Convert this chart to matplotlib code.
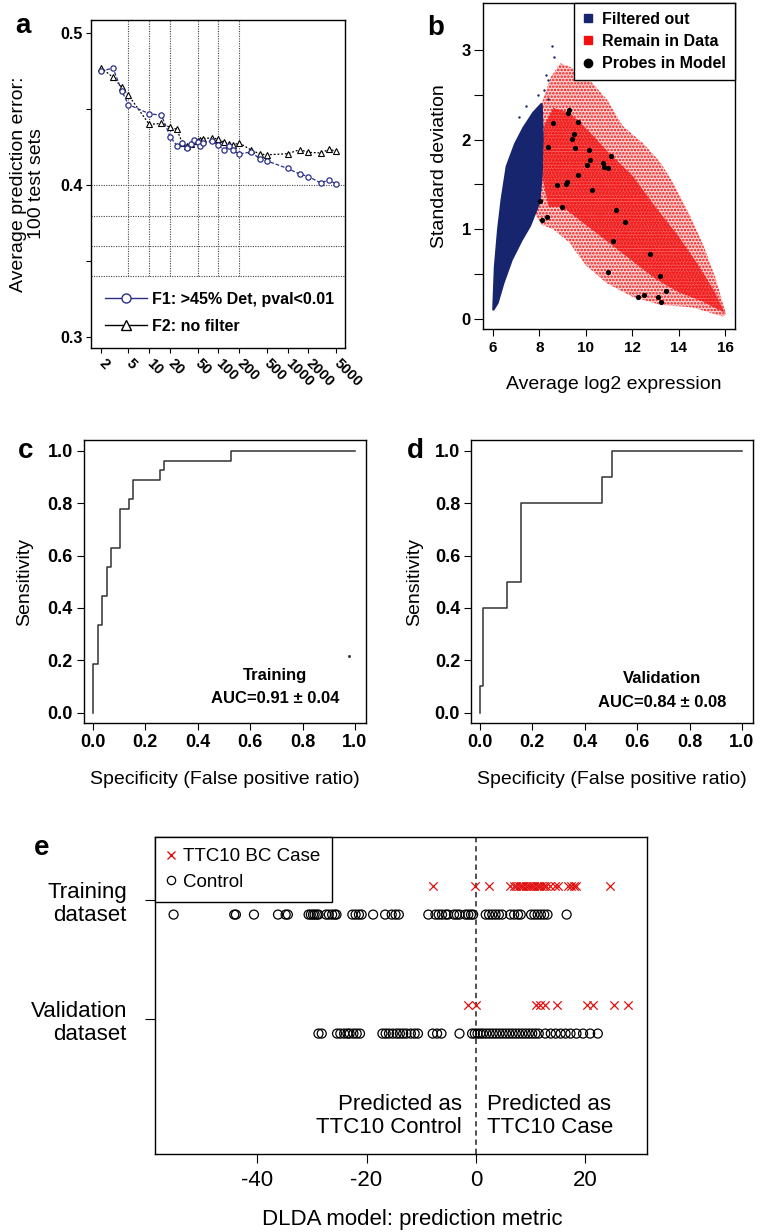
import numpy as np
import matplotlib
matplotlib.use('Agg')
import matplotlib.pyplot as plt
from matplotlib.lines import Line2D
from matplotlib.patches import Polygon
from matplotlib.ticker import FixedLocator

# ---------------- data ----------------
# panel a: model size vs average prediction error
model_sizes = [2, 3, 4, 5, 10, 15, 20, 25, 30, 35, 40, 45, 50, 55, 60, 80, 100, 120, 140, 160,
               200, 300, 400, 500, 1000, 1500, 2000, 3000, 4000, 5000]
f1_error = [0.475, 0.477, 0.462, 0.453, 0.447, 0.446, 0.432, 0.426, 0.428, 0.4245, 0.427, 0.4295,
            0.4285, 0.426, 0.4275, 0.429, 0.4263, 0.423, 0.426, 0.423, 0.4205, 0.4219, 0.417, 0.416,
            0.411, 0.4073, 0.4057, 0.4015, 0.4035, 0.4007]
f2_error = [0.4773, 0.4709, 0.4645, 0.4592, 0.440, 0.4406, 0.438, 0.4368, 0.4278, 0.4259, 0.427,
            0.429, 0.429, 0.430, 0.4307, 0.4311, 0.4303, 0.4281, 0.4274, 0.4263, 0.4278, 0.423,
            0.4205, 0.420, 0.4207, 0.4234, 0.4216, 0.4212, 0.4236, 0.4223]
a_xticks = [2, 5, 10, 20, 50, 100, 200, 500, 1000, 2000, 5000]
a_grid_x = [5, 10, 20, 50, 100, 200]
a_grid_y = [0.40, 0.38, 0.36, 0.34]

# panel b: outlines of the point clouds (mean, sd)
blue_x = [6.01, 6.08, 6.22, 6.37, 6.59, 6.95, 7.31, 7.74, 8.10, 8.15, 8.10, 8.00, 7.60, 7.24, 6.81, 6.45, 6.20]
blue_y = [0.10, 0.58, 1.00, 1.33, 1.70, 1.95, 2.13, 2.30, 2.40, 2.00, 1.60, 1.30, 1.04, 0.88, 0.66, 0.40, 0.18]
blue_out_x = [7.42, 8.30, 8.38, 8.55, 8.64, 7.95, 8.20, 7.10, 8.35]
blue_out_y = [2.37, 2.72, 2.66, 3.04, 2.92, 2.50, 2.55, 2.25, 2.45]
red_outer_x = [7.75, 7.70, 7.80, 8.10, 8.50, 8.90, 9.40, 10.20, 10.90, 11.60, 12.50, 13.20, 13.80, 14.50,
               15.10, 15.60, 16.05, 15.90, 14.60, 13.20, 12.00, 10.90, 10.00, 9.30, 8.60, 8.10]
red_outer_y = [1.20, 1.60, 2.00, 2.40, 2.70, 2.85, 2.80, 2.65, 2.45, 2.15, 1.95, 1.75, 1.50, 1.15,
               0.80, 0.45, 0.05, 0.03, 0.13, 0.16, 0.25, 0.40, 0.60, 0.85, 1.00, 1.05]
red_core_x = [8.20, 8.60, 9.30, 10.10, 11.00, 12.00, 13.00, 14.00, 14.80, 15.50, 16.00, 15.00, 14.00,
              13.00, 12.00, 11.00, 10.00, 9.00, 8.40, 8.15]
red_core_y = [2.15, 2.35, 2.30, 2.10, 1.85, 1.60, 1.25, 0.92, 0.62, 0.33, 0.07, 0.20, 0.30,
              0.45, 0.65, 0.85, 1.05, 1.25, 1.25, 1.55]
probe_x = [9.28, 9.22, 8.60, 9.65, 9.48, 9.40, 8.36, 9.52, 10.12, 11.07, 10.17, 10.05, 10.75, 10.80,
           10.94, 9.66, 9.18, 9.13, 8.75, 10.27, 8.04, 8.99, 11.32, 8.34, 8.10, 11.70, 11.16, 12.75,
           10.96, 13.21, 13.44, 12.26, 12.50, 13.11, 13.24]
probe_y = [2.33, 2.29, 2.18, 2.20, 2.06, 2.01, 1.92, 1.90, 1.88, 1.82, 1.77, 1.72, 1.74, 1.69,
           1.68, 1.61, 1.53, 1.50, 1.49, 1.44, 1.31, 1.25, 1.22, 1.14, 1.10, 1.08, 0.87, 0.72,
           0.53, 0.48, 0.31, 0.25, 0.27, 0.25, 0.19]

# panel c, d: ROC step curves (false positive ratio, sensitivity)
roc_train_fpr = [0.0, 0.0, 0.0178, 0.0178, 0.034, 0.034, 0.052, 0.052, 0.069, 0.069, 0.103, 0.103,
                 0.136, 0.136, 0.154, 0.154, 0.256, 0.256, 0.271, 0.271, 0.526, 0.526, 1.0]
roc_train_sens = [0.0, 0.185, 0.185, 0.333, 0.333, 0.444, 0.444, 0.556, 0.556, 0.630, 0.630, 0.778,
                  0.778, 0.815, 0.815, 0.889, 0.889, 0.926, 0.926, 0.963, 0.963, 1.0, 1.0]
roc_val_fpr = [0.0, 0.0, 0.013, 0.013, 0.103, 0.103, 0.158, 0.158, 0.466, 0.466, 0.504, 0.504, 1.0]
roc_val_sens = [0.0, 0.1, 0.1, 0.4, 0.4, 0.5, 0.5, 0.8, 0.8, 0.9, 0.9, 1.0, 1.0]

# panel e: DLDA prediction metric
train_case = [-7.8, -0.2, 2.4, 6.2, 6.9, 7.4, 7.8, 8.3, 8.7, 9.1, 9.5, 9.9, 10.3, 10.7, 11.1, 11.5,
              11.9, 12.4, 12.9, 13.6, 14.5, 15.1, 16.8, 17.4, 18.0, 18.4, 24.5]
train_ctrl = [-55.3, -44.2, -43.9, -40.6, -36.2, -34.8, -34.4, -30.6, -30.2, -29.8, -29.5, -29.1,
              -28.8, -27.4, -26.9, -26.3, -25.8, -25.5, -22.6, -22.0, -21.4, -20.9, -18.8, -16.6,
              -15.4, -14.7, -14.1, -8.7, -7.4, -6.8, -6.2, -5.5, -5.1, -4.0, -3.5, -3.0, -1.9,
              -1.4, -0.9, -0.5, 1.8, 2.4, 3.0, 3.6, 4.2, 4.8, 6.3, 7.0, 7.7, 8.2, 10.1, 10.7, 11.3,
              11.9, 12.5, 13.1, 16.6]
val_case = [-1.5, 0.1, 11.0, 11.7, 12.6, 14.8, 20.3, 21.5, 25.2, 27.9]
val_ctrl = [-28.8, -28.2, -25.4, -24.8, -24.1, -23.5, -23.1, -22.4, -21.8, -21.2, -17.1, -16.5,
            -15.9, -15.2, -14.5, -13.9, -13.3, -12.7, -11.9, -11.2, -10.6, -7.9, -7.1, -6.3,
            -3.0, -0.7, -0.2, 0.3, 0.8, 1.3, 1.9, 2.5, 3.1, 3.7, 4.3, 4.9, 5.5, 6.1, 6.7, 7.3,
            7.9, 8.5, 9.1, 9.7, 10.3, 10.9, 11.5, 12.7, 13.7, 14.6, 15.5, 16.4, 17.3, 18.4,
            19.6, 20.9, 22.3]
e_rows = [2, 1]
e_row_labels = ['Training\ndataset', 'Validation\ndataset']

# ---------------- figure ----------------
W, H = 769, 1232
fig = plt.figure(figsize=(W / 100, H / 100), dpi=100)
SANS = ['Liberation Sans', 'DejaVu Sans']
plt.rcParams['font.family'] = SANS
plt.rcParams['axes.linewidth'] = 1.0
plt.rcParams['hatch.linewidth'] = 1.2


def ax_px(l, t, r, b):
    return fig.add_axes([l / W, 1 - b / H, (r - l) / W, (b - t) / H])


def px(v):
    return v * 72 / 100.0


# ---------------- panel a ----------------
ax = ax_px(91, 20, 345, 348)
ax.set_xscale('log')
ax.set_xlim(1.44, 6740)
ax.set_ylim(0.293, 0.5086)
for gy in a_grid_y:
    ax.axhline(gy, color='#444444', lw=0.8, ls=(0, (1, 1.2)), zorder=1)
for gx in a_grid_x:
    ax.plot([gx, gx], [0.34, 0.5086], color='#444444', lw=0.8, ls=(0, (1, 1.2)), zorder=1)
navy = '#2a2f86'
ax.plot(model_sizes, f2_error, color='black', lw=0.9, ls=(0, (1.5, 1.5)), marker='^', ms=4.2,
        mfc='white', mec='black', mew=0.8, zorder=3)
ax.plot(model_sizes, f1_error, color=navy, lw=0.9, ls=(0, (3, 1.5)), marker='o', ms=3.8,
        mfc='white', mec=navy, mew=0.9, zorder=4)
ax.xaxis.set_major_locator(FixedLocator(a_xticks))
ax.xaxis.set_minor_locator(FixedLocator([]))
ax.set_xticklabels([str(v) for v in a_xticks], rotation=-45, ha='left', va='center',
                   rotation_mode='anchor', fontsize=10.5, fontweight='bold')
ax.set_yticks([0.3, 0.4, 0.5])
ax.set_yticklabels(['0.3', '0.4', '0.5'], fontsize=11.5, fontweight='bold')
ax.yaxis.set_minor_locator(FixedLocator([0.35, 0.45]))
ax.tick_params(axis='y', which='both', length=px(5), width=0.8, pad=px(3))
ax.tick_params(axis='x', which='major', length=px(5), width=0.8, pad=px(8))
ax.set_ylabel('Average prediction error:\n100 test sets', fontsize=14, linespacing=1.12)
ax.yaxis.set_label_coords(-0.18, 0.5)
leg_h = [Line2D([], [], color=navy, lw=1.0, marker='o', ms=6.5, mfc='white', mec=navy, mew=1.0),
         Line2D([], [], color='black', lw=1.0, marker='^', ms=7, mfc='white', mec='black', mew=1.0)]
ax.legend(leg_h, ['F1: >45% Det, pval<0.01', 'F2: no filter'], loc='lower left',
          bbox_to_anchor=(0.0, 0.0), frameon=False, handlelength=2.6, handletextpad=0.3,
          labelspacing=0.75, prop={'weight': 'bold', 'size': 11.5, 'family': SANS})
fig.text(15 / W, 1 - 26 / H, 'a', fontsize=20, fontweight='bold', va='center')

# ---------------- panel b ----------------
ax = ax_px(483, 3, 735, 329)
ax.set_xlim(5.57, 16.43)
ax.set_ylim(-0.11, 3.52)
red = '#f01010'
bnavy = '#17256e'
ax.add_patch(Polygon(np.column_stack([red_outer_x, red_outer_y]), closed=True, facecolor=red,
                     alpha=0.18, edgecolor='none', zorder=2))
ax.add_patch(Polygon(np.column_stack([red_outer_x, red_outer_y]), closed=True, facecolor='none',
                     edgecolor=red, hatch='.....', lw=0, zorder=2))
ax.add_patch(Polygon(np.column_stack([blue_x, blue_y]), closed=True, facecolor=bnavy,
                     edgecolor=bnavy, lw=1.5, zorder=3))
ax.scatter(blue_out_x, blue_out_y, s=3, color=bnavy, zorder=3, lw=0)
ax.add_patch(Polygon(np.column_stack([red_core_x, red_core_y]), closed=True, facecolor=red,
                     alpha=0.55, edgecolor='none', zorder=4))
ax.add_patch(Polygon(np.column_stack([red_core_x, red_core_y]), closed=True, facecolor='none',
                     edgecolor=red, hatch='......', lw=0, zorder=4))
ax.scatter(probe_x, probe_y, s=14, color='black', zorder=5, lw=0)
ax.set_xticks([6, 8, 10, 12, 14, 16])
ax.set_xticklabels(['6', '8', '10', '12', '14', '16'], fontsize=11, fontweight='bold')
ax.set_yticks([0, 1, 2, 3])
ax.set_yticklabels(['0', '1', '2', '3'], fontsize=12, fontweight='bold')
ax.yaxis.set_minor_locator(FixedLocator([0.5, 1.5, 2.5]))
ax.tick_params(axis='y', which='both', length=px(9), width=0.8, pad=px(3))
ax.tick_params(axis='x', length=px(7), width=0.8, pad=px(5))
ax.set_ylabel('Standard deviation', fontsize=14)
ax.yaxis.set_label_coords(-0.14, 0.5)
ax.set_xlabel('Average log2 expression', fontsize=14)
ax.xaxis.set_label_coords(0.52, -0.145)
leg_h = [Line2D([], [], ls='none', marker='s', ms=6, color=bnavy),
         Line2D([], [], ls='none', marker='s', ms=6, color=red),
         Line2D([], [], ls='none', marker='o', ms=6, color='black')]
lg = ax.legend(leg_h, ['Filtered out', 'Remain in Data', 'Probes in Model'], loc='upper right',
               bbox_to_anchor=(1.0, 1.0), borderaxespad=0, fancybox=False, framealpha=1,
               edgecolor='black', handlelength=0.6, handletextpad=0.6, labelspacing=0.45,
               borderpad=0.55, prop={'weight': 'bold', 'size': 11.5, 'family': SANS})
lg.get_frame().set_linewidth(1.0)
lg.set_zorder(10)
fig.text(427 / W, 1 - 28 / H, 'b', fontsize=20, fontweight='bold', va='center')


# ---------------- panels c, d ----------------
def roc_panel(l, t, r, b, fpr, sens, title, auc, letter, lx, ylab_x, txt_y):
    ax = ax_px(l, t, r, b)
    ax.set_xlim(-0.034, 1.042)
    ax.set_ylim(-0.04, 1.042)
    ax.plot(fpr, sens, color='#333333', lw=1.1)
    ticks = [0.0, 0.2, 0.4, 0.6, 0.8, 1.0]
    ax.set_xticks(ticks)
    ax.set_xticklabels(['%.1f' % v for v in ticks], fontsize=13, fontweight='bold')
    ax.set_yticks(ticks)
    ax.set_yticklabels(['%.1f' % v for v in ticks], fontsize=13, fontweight='bold')
    ax.tick_params(axis='both', length=px(7), width=0.8, pad=px(4))
    ax.set_ylabel('Sensitivity', fontsize=14)
    ax.yaxis.set_label_coords(ylab_x, 0.5)
    ax.set_xlabel('Specificity (False positive ratio)', fontsize=14)
    ax.xaxis.set_label_coords(0.5, -0.17)
    ax.text(0.695, txt_y, title, ha='center', va='center', fontsize=12, fontweight='bold')
    ax.text(0.695, txt_y - 0.09, auc, ha='center', va='center', fontsize=12, fontweight='bold')
    fig.text(lx / W, 1 - 451 / H, letter, fontsize=20, fontweight='bold', va='center')
    return ax


axc = roc_panel(84, 440, 366, 723, roc_train_fpr, roc_train_sens, 'Training',
                'AUC=0.91 \u00b1 0.04', 'c', 18, -0.18, 0.143)
axc.plot([0.977], [0.217], marker='s', ms=1.0, color='#333333')
roc_panel(471, 440, 753, 723, roc_val_fpr, roc_val_sens, 'Validation',
          'AUC=0.84 \u00b1 0.08', 'd', 407, -0.17, 0.13)

# ---------------- panel e ----------------
ax = ax_px(155, 837, 647, 1154)
ax.set_xlim(-58.7, 31.3)
ax.set_ylim(-0.134, 2.53)
off = 0.122
ax.scatter(train_case, [e_rows[0] + off] * len(train_case), marker='x', s=36, color='#e01010',
           lw=0.9, zorder=3)
ax.scatter(train_ctrl, [e_rows[0] - off] * len(train_ctrl), marker='o', s=42, facecolors='none',
           edgecolors='black', lw=0.9, zorder=3)
ax.scatter(val_case, [e_rows[1] + off] * len(val_case), marker='x', s=36, color='#e01010',
           lw=0.9, zorder=3)
ax.scatter(val_ctrl, [e_rows[1] - off] * len(val_ctrl), marker='o', s=42, facecolors='none',
           edgecolors='black', lw=0.9, zorder=3)
ax.axvline(0, color='#222222', lw=1.1, ls=(0, (3.5, 2.5)), zorder=2)
ax.set_xticks([-40, -20, 0, 20])
ax.set_xticklabels(['-40', '-20', '0', '20'], fontsize=16)
ax.set_yticks(e_rows)
ax.set_yticklabels(e_row_labels, fontsize=16, linespacing=1.15)
ax.tick_params(axis='x', length=px(9), width=0.8, pad=px(7))
ax.tick_params(axis='y', length=px(10), width=0.8, pad=px(18))
ax.set_xlabel('DLDA model: prediction metric', fontsize=16)
ax.xaxis.set_label_coords(0.522, -0.175)
ax.text(-2.6, 0.185, 'Predicted as\nTTC10 Control', ha='right', va='center', fontsize=16,
        linespacing=1.15)
ax.text(2.0, 0.185, 'Predicted as\nTTC10 Case', ha='left', va='center', fontsize=16,
        linespacing=1.15)
leg_h = [Line2D([], [], ls='none', marker='x', ms=6, mew=1.0, color='#e01010'),
         Line2D([], [], ls='none', marker='o', ms=6, mew=0.9, mfc='none', mec='black')]
lg = ax.legend(leg_h, ['TTC10 BC Case', 'Control'], loc='upper left', bbox_to_anchor=(0, 1),
               borderaxespad=0, fancybox=False, framealpha=1, edgecolor='black',
               handlelength=0.5, handletextpad=0.4, labelspacing=0.45, borderpad=0.6,
               prop={'size': 13.5, 'family': SANS})
lg.get_frame().set_linewidth(1.0)
fig.text(34 / W, 1 - 848 / H, 'e', fontsize=20, fontweight='bold', va='center')

fig.savefig('out.png', dpi=100)
